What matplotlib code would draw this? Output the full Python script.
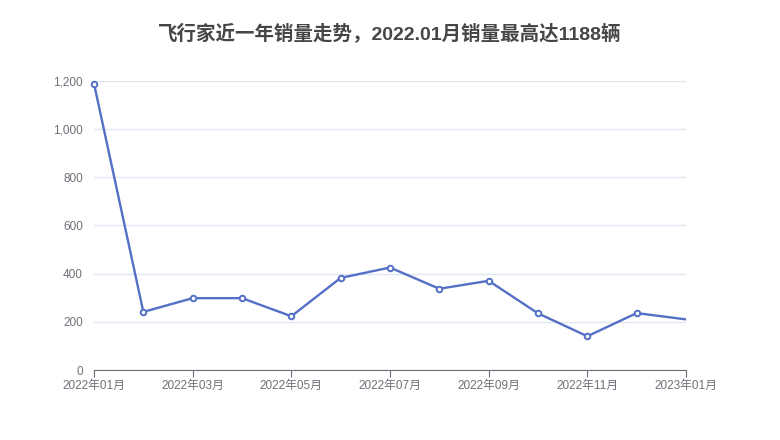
import matplotlib.pyplot as plt

plt.rcParams['font.family'] = ['Liberation Sans', 'Noto Sans CJK SC', 'DejaVu Sans']

months = ['2022年01月', '2022年02月', '2022年03月', '2022年04月', '2022年05月',
          '2022年06月', '2022年07月', '2022年08月', '2022年09月', '2022年10月',
          '2022年11月', '2022年12月', '2023年01月']
sales = [1188, 241, 298, 298, 223, 382, 425, 337, 370, 235, 140, 236, 210]
title = '飞行家近一年销量走势，2022.01月销量最高达1188辆'

fig = plt.figure(figsize=(7.8, 4.4), dpi=100)
ax = fig.add_axes([94 / 780, 70 / 440, 592 / 780, 289.3 / 440])

x = list(range(len(months)))
ax.plot(x, sales, color='#5470c6', linewidth=1.7, zorder=3)
ax.plot(x[:-1], sales[:-1], linestyle='none', marker='o', markersize=4,
        markerfacecolor='white', markeredgecolor='#5470c6', markeredgewidth=1.4,
        zorder=4, clip_on=False)

ax.set_xlim(0, len(months) - 1)
ax.set_ylim(0, 1200)
ax.set_yticks(range(0, 1201, 200))
ax.set_yticklabels([f'{v:,}' for v in range(0, 1201, 200)])
ax.set_xticks(x[::2])
ax.set_xticklabels(months[::2])

ax.grid(axis='y', color='#e0e6f1', linewidth=1)
ax.set_axisbelow(True)
for s in ['top', 'right', 'left']:
    ax.spines[s].set_visible(False)
ax.spines['bottom'].set_color('#6e7079')
ax.tick_params(axis='y', length=0, labelsize=8.5, labelcolor='#6e7079', pad=8)
ax.tick_params(axis='x', length=5, color='#6e7079', labelsize=8.5, labelcolor='#6e7079', pad=2)

fig.text(0.5, 1 - 34 / 440, title, ha='center', va='center', fontsize=14,
         fontweight='bold', color='#464646')

fig.savefig('out.png', dpi=100)
